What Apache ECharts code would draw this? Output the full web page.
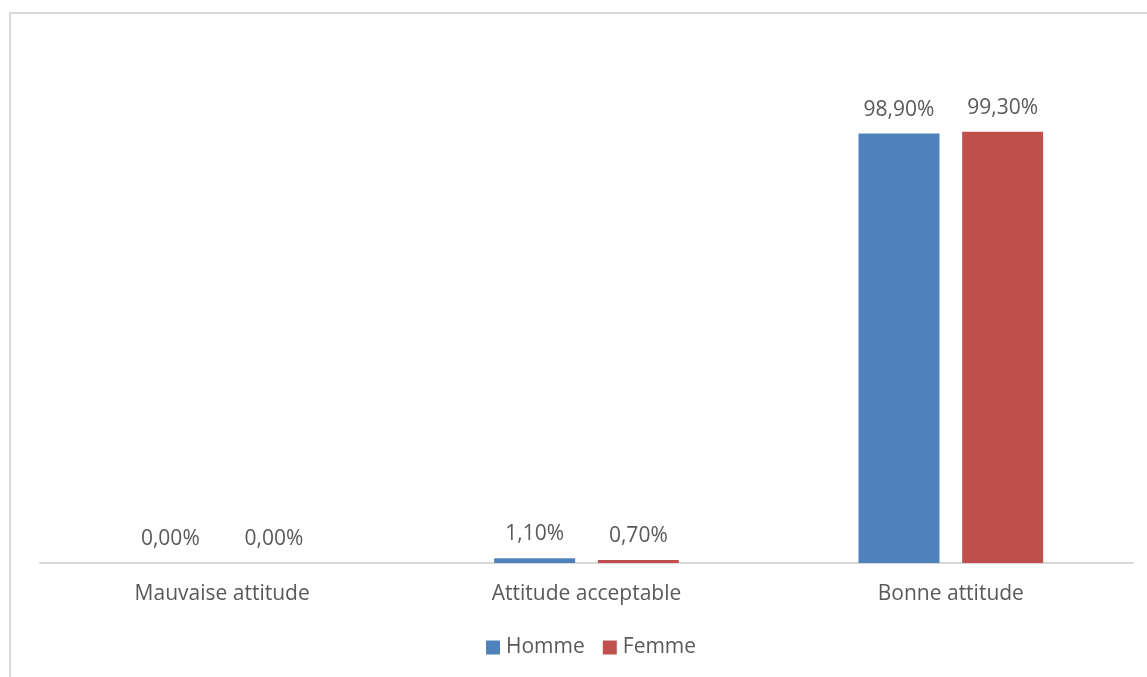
<!DOCTYPE html>
<html>
<head>
<meta charset="utf-8">
<title>Attitude par sexe</title>
<script src="https://cdn.jsdelivr.net/npm/echarts@6/dist/echarts.min.js"></script>
<style>
  html, body { margin: 0; padding: 0; background: #ffffff; }
  #chart { width: 1147px; height: 677px; }
</style>
</head>
<body>
<div id="chart"></div>
<script>
// Categories and percentage values per sex
const categories = ['Mauvaise attitude', 'Attitude acceptable', 'Bonne attitude'];
const homme = [0.0, 1.1, 98.9];
const femme = [0.0, 0.7, 99.3];
const seriesNames = ['Homme', 'Femme'];

const FONT = '"Open Sans", "Noto Sans", sans-serif';
const TEXT = '#595959';

const fmt = v => v.toFixed(2).replace('.', ',') + '%';

const chart = echarts.init(document.getElementById('chart'), null, { renderer: 'canvas' });

const labelStyle = {
  show: true,
  position: 'top',
  distance: 12,
  color: TEXT,
  fontFamily: FONT,
  fontSize: 21,
  lineHeight: 24,
  formatter: p => fmt(p.value)
};

chart.setOption({
  animation: false,
  backgroundColor: '#ffffff',
  graphic: [{
    type: 'rect',
    shape: { x: 10, y: 13, width: 1200, height: 720 },
    style: { fill: 'none', stroke: '#d9d9d9', lineWidth: 2 },
    silent: true
  }],
  grid: { left: 40, right: 14, top: 42, bottom: 114, containLabel: false },
  legend: {
    data: seriesNames,
    left: 486,
    top: 637,
    padding: 0,
    icon: 'rect',
    itemWidth: 14,
    itemHeight: 14,
    itemGap: 18,
    textStyle: { color: TEXT, fontFamily: FONT, fontSize: 21, padding: [0, 0, 0, 1] }
  },
  xAxis: {
    type: 'category',
    data: categories,
    axisLine: { show: true, lineStyle: { color: '#d9d9d9', width: 2 } },
    axisTick: { show: false },
    axisLabel: { color: TEXT, fontFamily: FONT, fontSize: 21, margin: 21 }
  },
  yAxis: {
    type: 'value',
    min: 0,
    max: 120,
    show: false,
    splitLine: { show: false }
  },
  series: [
    {
      name: seriesNames[0],
      type: 'bar',
      data: homme,
      barWidth: 81,
      barGap: '28%',
      itemStyle: { color: '#4f81bd' },
      label: labelStyle
    },
    {
      name: seriesNames[1],
      type: 'bar',
      data: femme,
      barWidth: 81,
      itemStyle: { color: '#c0504d' },
      label: labelStyle
    }
  ]
});
</script>
</body>
</html>
